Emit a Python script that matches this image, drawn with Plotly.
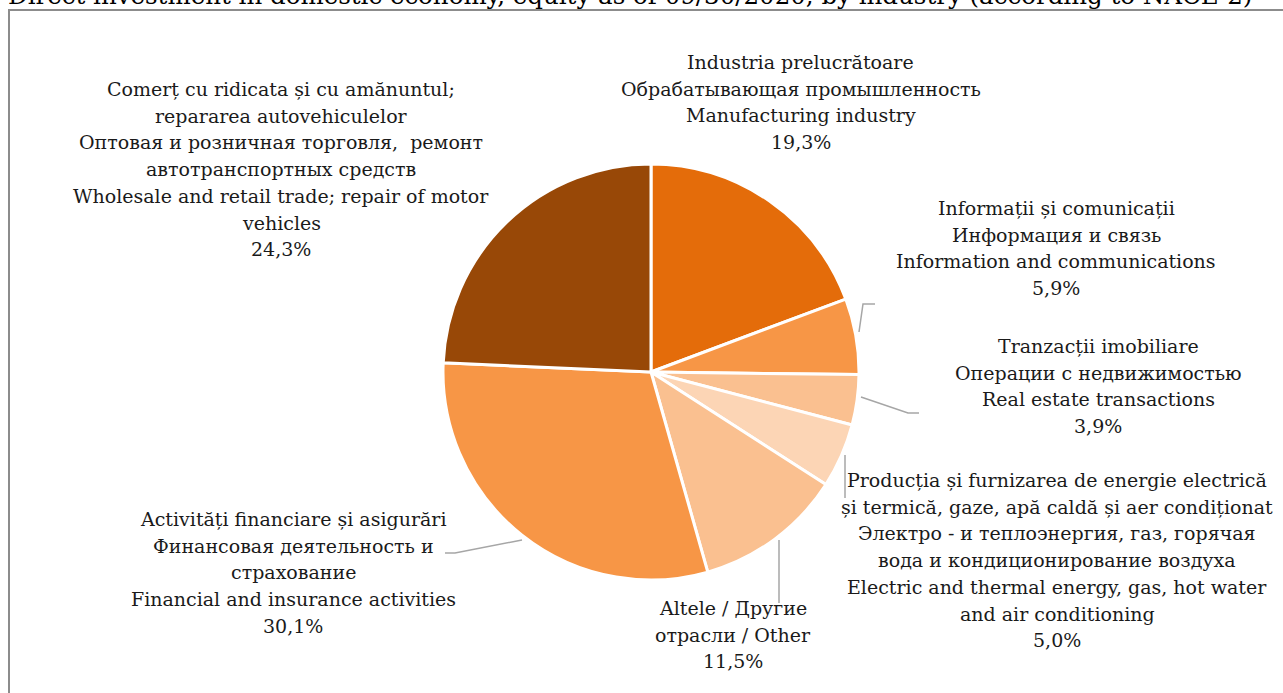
import plotly.graph_objects as go

W, H = 1283, 693

# ---- data ----
labels_ro = [
    "Industria prelucrătoare",
    "Informații și comunicații",
    "Tranzacții imobiliare",
    "Producția și furnizarea de energie electrică",
    "Altele",
    "Activități financiare și asigurări",
    "Comerț cu ridicata și cu amănuntul",
]
values = [19.3, 5.9, 3.9, 5.0, 11.5, 30.1, 24.3]
label_lines = [
    ["Industria prelucrătoare", "Обрабатывающая промышленность", "Manufacturing industry"],
    ["Informații și comunicații", "Информация и связь", "Information and communications"],
    ["Tranzacții imobiliare", "Операции с недвижимостью", "Real estate transactions"],
    ["Producția și furnizarea de energie electrică", "și termică, gaze, apă caldă și aer condiționat",
     "Электро - и теплоэнергия, газ, горячая", "вода и кондиционирование воздуха",
     "Electric and thermal energy, gas, hot water", "and air conditioning"],
    ["Altele / Другие", "отрасли / Other"],
    ["Activități financiare și asigurări", "Финансовая деятельность и", "страхование",
     "Financial and insurance activities"],
    ["Comerț cu ridicata și cu amănuntul;", "repararea autovehiculelor",
     "Оптовая и розничная торговля,  ремонт", "автотранспортных средств",
     "Wholesale and retail trade; repair of motor", "vehicles"],
]
colors = ["#E46C0A", "#F79646", "#FAC090", "#FCD5B5", "#FAC090", "#F79646", "#984807"]
title_text = "Direct investment in domestic economy, equity as of 09/30/2020, by industry (according to NACE-2)"

# label placement: (center x, first line center y) in pixels
label_pos = [(801, 62), (1056, 208), (1098, 346), (1057, 480), (733, 608), (293, 519), (281, 89)]
LINE_GAP = 26.7
leaders = [
    None,
    [(859, 332), (863, 304), (875, 304)],
    [(861, 397), (908, 413), (919, 413)],
    [(845, 455), (845, 498)],
    [(779, 540), (779, 603)],
    [(522, 540), (455, 553), (445, 553)],
    None,
]

FONT = "DejaVu Serif"


def px(x):
    return x / W


def py(y):
    return 1 - y / H


cx, cy, r = 651, 372, 208

fig = go.Figure(
    go.Pie(
        labels=labels_ro,
        values=values,
        sort=False,
        direction="clockwise",
        rotation=0,
        marker=dict(colors=colors, line=dict(color="white", width=3)),
        textinfo="none",
        hoverinfo="label+percent",
        showlegend=False,
        domain=dict(x=[px(cx - r), px(cx + r)], y=[py(cy + r), py(cy - r)]),
    )
)

annotations = []
for lines, v, (x, y0) in zip(label_lines, values, label_pos):
    all_lines = lines + [f"{v:.1f}%".replace(".", ",")]
    for i, line in enumerate(all_lines):
        annotations.append(
            dict(
                text=line,
                x=px(x), y=py(y0 + i * LINE_GAP), xref="paper", yref="paper",
                xanchor="center", yanchor="middle", align="center",
                showarrow=False,
                font=dict(family=FONT, size=19, color="#1a1a1a"),
            )
        )

annotations.append(
    dict(
        text=title_text, x=px(6), y=py(12), xref="paper", yref="paper",
        xanchor="left", yanchor="bottom", showarrow=False,
        font=dict(family=FONT, size=24.5, color="#000000"),
    )
)

shapes = [
    dict(type="rect", xref="paper", yref="paper",
         x0=px(9), x1=px(1300), y0=py(10), y1=py(710),
         line=dict(color="#8c8c8c", width=2), fillcolor="rgba(0,0,0,0)", layer="below")
]
for pts in leaders:
    if not pts:
        continue
    path = "M " + " L ".join(f"{px(a)},{py(b)}" for a, b in pts)
    shapes.append(dict(type="path", xref="paper", yref="paper", path=path,
                       line=dict(color="#a6a6a6", width=1.5)))

fig.update_layout(
    width=W, height=H,
    margin=dict(l=0, r=0, t=0, b=0),
    paper_bgcolor="white", plot_bgcolor="white",
    annotations=annotations, shapes=shapes,
)

fig.write_html(
    "out.html",
    config={"displayModeBar": False},
    post_script="document.body.style.margin='0';document.body.style.overflow='hidden';",
)
